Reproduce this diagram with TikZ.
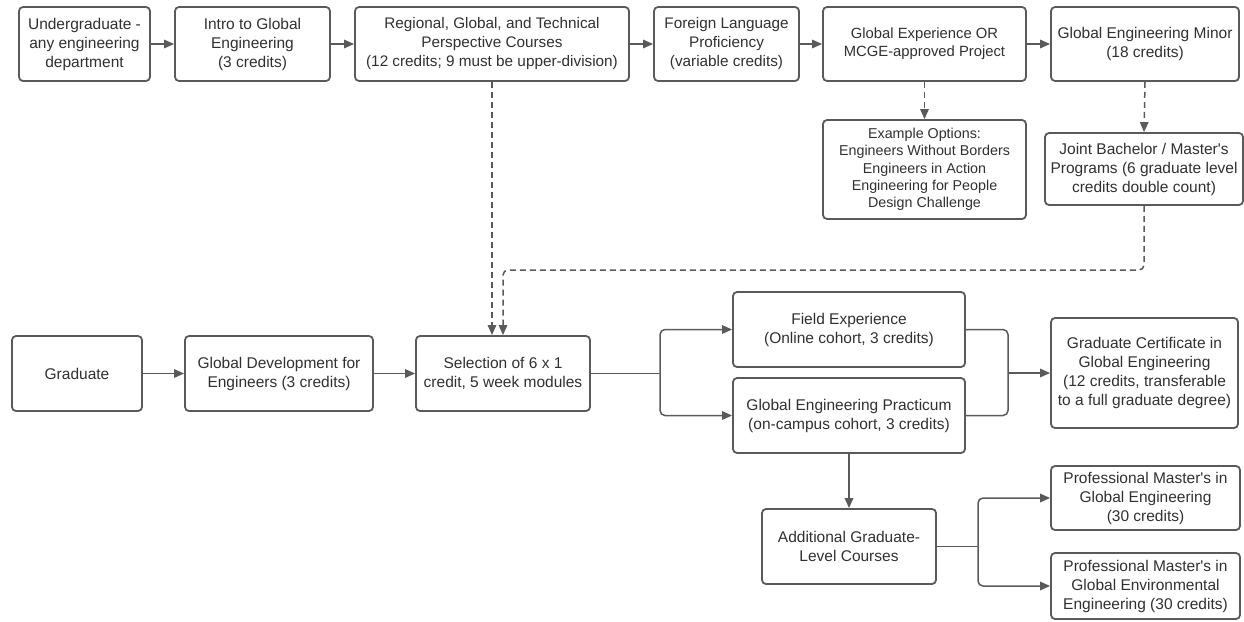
\documentclass[tikz,border=0pt]{standalone}
\usepackage{fontspec}
\setmainfont{Liberation Sans}
\usetikzlibrary{arrows.meta}
\definecolor{edge}{HTML}{5A5A5A}
\definecolor{txt}{HTML}{303030}
\tikzset{
  box/.style={draw=edge, line width=1.8pt, rounded corners=4pt, align=center, text=txt,
    inner sep=0pt, font=\fontsize{15.5}{19}\selectfont},
  conn/.style={draw=edge, line width=1.5pt, -{Triangle[length=10pt,width=8.5pt]}},
  dconn/.style={conn, dashed, dash pattern=on 6pt off 4pt},
  branch/.style={draw=edge, line width=1.5pt},
}
\newcommand{\bx}[7]{% name, x1, y1, x2, y2, style, text
  \node[box, #6, minimum width={(#4-#2)*1pt}, minimum height={(#5-#3)*1pt}]
    (#1) at ({(#2+#4)/2},{(#3+#5)/2}) {#7};}
\newcommand{\apo}{\textquotesingle}
\begin{document}
\begin{tikzpicture}[x=1pt, y=-1pt]
\useasboundingbox (0,0) rectangle (1244,621);
% top row
\bx{ug}{19}{7}{150}{81}{}{Undergraduate -\\any engineering\\department}
\bx{intro}{175}{7}{330}{81}{}{Intro to Global\\Engineering\\(3 credits)}
\bx{reg}{355}{7}{629}{81}{font=\fontsize{15.3}{19}\selectfont}{Regional, Global, and Technical\\Perspective Courses\\(12 credits; 9 must be upper-division)}
\bx{lang}{654}{7}{799}{81}{font=\fontsize{15.3}{19}\selectfont}{Foreign Language\\Proficiency\\(variable credits)}
\bx{gexp}{823}{7}{1026}{81}{font=\fontsize{14.8}{18.3}\selectfont}{Global Experience OR\\MCGE-approved Project}
\bx{minor}{1051}{7}{1239}{81}{}{Global Engineering Minor\\(18 credits)}
\bx{ex}{823}{120}{1026}{219}{font=\fontsize{14.3}{17.3}\selectfont}{Example Options:\\Engineers Without Borders\\Engineers in Action\\Engineering for People\\Design Challenge}
\bx{joint}{1045}{133}{1243}{205}{}{Joint Bachelor / Master\apo s\\Programs (6 graduate level\\credits double count)}
% middle row
\bx{grad}{12}{336}{142}{411}{}{Graduate}
\bx{gdev}{185}{336}{373}{411}{}{Global Development for\\Engineers (3 credits)}
\bx{sel}{416}{336}{590}{411}{}{Selection of 6 x 1\\credit, 5 week modules}
\bx{field}{733}{292}{965}{367}{}{Field Experience\\(Online cohort, 3 credits)}
\bx{prac}{733}{378}{965}{453}{}{Global Engineering Practicum\\(on-campus cohort, 3 credits)}
\bx{cert}{1051}{318}{1238}{428}{}{Graduate Certificate in\\Global Engineering\\(12 credits, transferable\\to a full graduate degree)}
% bottom
\bx{add}{762}{509}{936}{584}{}{Additional Graduate-\\Level Courses}
\bx{pm1}{1051}{466}{1240}{530}{}{Professional Master\apo s in\\Global Engineering\\(30 credits)}
\bx{pm2}{1051}{553}{1240}{619}{}{Professional Master\apo s in\\Global Environmental\\Engineering (30 credits)}
% connectors top row
\draw[conn] (ug.east) -- (intro.west);
\draw[conn] (intro.east) -- (reg.west);
\draw[conn] (reg.east) -- (lang.west);
\draw[conn] (lang.east) -- (gexp.west);
\draw[conn] (gexp.east) -- (minor.west);
\draw[dconn] (gexp.south) -- (ex.north);
\draw[dconn] (minor.south) -- (joint.north);
\coordinate (jturn) at (joint.south |- 0,270);
\draw[dconn, rounded corners=5pt] (joint.south) -- (jturn) -| (sel.north);
\draw[dconn] (reg.south) -- (reg.south |- sel.north);
% middle row
\draw[conn] (grad.east) -- (gdev.west);
\draw[conn] (gdev.east) -- (sel.west);
\coordinate (fork1) at (sel.east -| 660,0);
\draw[branch] (sel.east) -- (fork1);
\draw[conn, rounded corners=5pt] (fork1) |- (field.west);
\draw[conn, rounded corners=5pt] (fork1) |- (prac.west);
\coordinate (join1) at (cert.west -| 1008,0);
\draw[branch, rounded corners=5pt] (field.east) -| (join1);
\draw[branch, rounded corners=5pt] (prac.east) -| (join1);
\draw[conn] (join1) -- (cert.west);
% bottom
\draw[conn] (prac.south) -- (add.north);
\coordinate (fork2) at (add.east -| 978,0);
\draw[branch] (add.east) -- (fork2);
\draw[conn, rounded corners=5pt] (fork2) |- (pm1.west);
\draw[conn, rounded corners=5pt] (fork2) |- (pm2.west);
\end{tikzpicture}
\end{document}
